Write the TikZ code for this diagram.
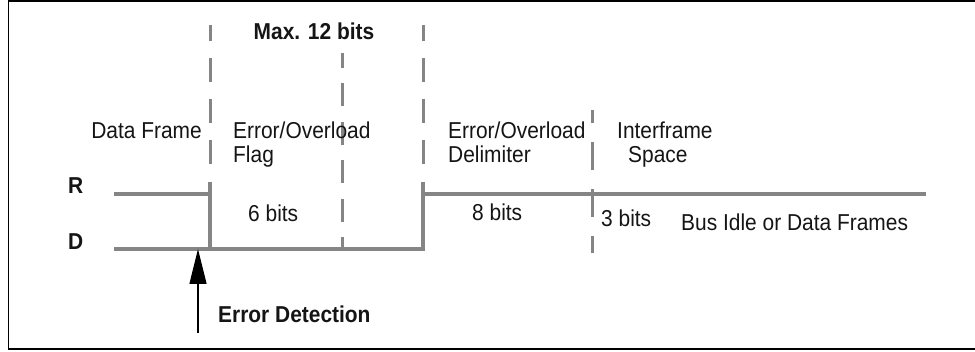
\documentclass[tikz,border=0pt]{standalone}
\usepackage{fontspec}
\setmainfont{Liberation Sans}[FakeStretch=0.91]
\usetikzlibrary{arrows.meta}
\definecolor{sig}{HTML}{858585}
\definecolor{ink}{HTML}{151515}
\tikzset{
  lbl/.style={anchor=base west, inner sep=0pt, text=ink, font=\fontsize{23}{24}\selectfont},
  blbl/.style={lbl, font=\fontsize{23}{24}\selectfont\bfseries},
  signal/.style={draw=sig, line width=3.4pt},
  divider/.style={draw=sig, line width=3pt},
  frame/.style={draw=black, line width=1.6pt},
  detect/.style={draw=black, line width=1.3pt, -{Triangle[length=35pt,width=17pt]}}
}
\begin{document}
\begin{tikzpicture}[x=1pt,y=-1pt]
\useasboundingbox (0,0) rectangle (975,352);
\fill[white] (0,0) rectangle (975,352);

% outer frame (open on the right)
\draw[frame] (975,1) -- (8.5,1) -- (8.5,349) -- (975,349);

% dashed field dividers
\draw[divider, dash pattern=on 24pt off 17pt, dash phase=8pt] (210,25) -- (210,166);
\draw[divider, dash pattern=on 23pt off 15.5pt, dash phase=8pt] (342,53) -- (342,249);
\draw[divider, dash pattern=on 24pt off 17pt, dash phase=8pt] (423,25) -- (423,166);
\draw[divider, dash pattern=on 28pt off 19pt, dash phase=15pt] (592,110) -- (592,253);

% recessive / dominant bus levels
\coordinate (r0) at (114,194);
\coordinate (e1) at (210,194);
\coordinate (e0) at (210,182);
\coordinate (d0) at (114,249);
\coordinate (d1) at (210,249);
\coordinate (d2) at (423,249);
\coordinate (u0) at (423,182);
\coordinate (r1) at (423,194);
\coordinate (r2) at (926,194);
\draw[signal] (r0) -- (e1);
\draw[signal] (e0) -- (d1);
\draw[signal] (d0) -- (d2) -- (u0);
\draw[signal] (r1) -- (r2);

% error detection marker
\coordinate (arrTail) at (198,333);
\coordinate (arrTip) at (198,249);
\draw[detect] (arrTail) -- (arrTip);

% labels
\node[blbl, anchor=base] (maxbits) at (314,40) {Max. 12 bits};
\node[lbl, anchor=base east] (dataframe) at (202,139) {Data Frame};
\node[lbl] (flag1) at (233,139) {Error/Overload};
\node[lbl] (flag2) at (233,163) {Flag};
\node[lbl] (delim1) at (448,139) {Error/Overload};
\node[lbl] (delim2) at (448,163) {Delimiter};
\node[lbl] (ifs1) at (617,139) {Interframe};
\node[lbl] (ifs2) at (628,163) {Space};
\node[blbl] (levR) at (68,194) {R};
\node[blbl] (levD) at (68,250) {D};
\node[lbl] (six) at (248,222) {6 bits};
\node[lbl] (eight) at (472,221) {8 bits};
\node[lbl] (three) at (601,227) {3 bits};
\node[lbl] (idle) at (681,231) {Bus Idle or Data Frames};
\node[blbl] (errdet) at (218,323) {Error Detection};
\end{tikzpicture}
\end{document}
